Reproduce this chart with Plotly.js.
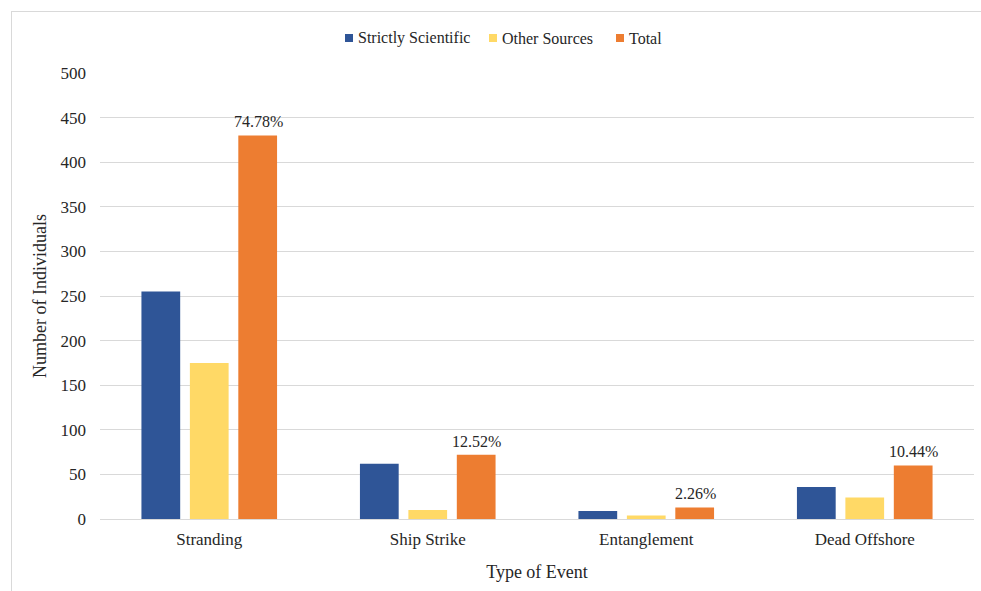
<!DOCTYPE html>
<html>
<head>
<meta charset="utf-8">
<script src="https://cdn.plot.ly/plotly-3.0.1.min.js"></script>
<style>
  html, body { margin: 0; padding: 0; background: #ffffff; }
  #wrap { position: relative; width: 981px; height: 591px; }
  #chart { position: absolute; left: 0; top: 0; width: 981px; height: 591px; }
  #frame { position: absolute; left: 11px; top: 11px; width: 975px; height: 590px;
           border-top: 1px solid #d9d9d9; border-left: 1px solid #d9d9d9; pointer-events: none; }
</style>
</head>
<body>
<div id="wrap">
  <div id="chart"></div>
  <div id="frame"></div>
</div>
<script>
// Event types and counts of individuals per source
const categories = ["Stranding", "Ship Strike", "Entanglement", "Dead Offshore"];
const strictlyScientific = [255, 62, 9, 36];
const otherSources = [175, 10, 4, 24];
const total = [430, 72, 13, 60];
const totalShare = ["74.78%", "12.52%", "2.26%", "10.44%"];
const seriesNames = ["Strictly Scientific", "Other Sources", "Total"];
const yTicks = [0, 50, 100, 150, 200, 250, 300, 350, 400, 450, 500];

const font = "Liberation Serif";
const textColor = "#262626";
const colors = ["#2F5597", "#FFD966", "#ED7D31"];
const seriesValues = [strictlyScientific, otherSources, total];

const traces = seriesNames.map((name, k) => ({
  type: "bar", name: name, x: categories, y: seriesValues[k],
  marker: { color: colors[k] }, showlegend: false, hoverinfo: "x+y+name"
}));

// Plot area geometry (pixels) used to place the compact legend row
const plotLeft = 100, plotWidth = 874, plotBottom = 519, plotHeight = 446;
const px = v => (v - plotLeft) / plotWidth;
const py = v => (plotBottom - v) / plotHeight;

// Compact legend: small square key followed by the series name
const legendKeyLeft = [345, 489, 616];
const legendShapes = legendKeyLeft.map((left, k) => ({
  type: "rect", xref: "paper", yref: "paper",
  x0: px(left), x1: px(left + 8), y0: py(42), y1: py(34),
  fillcolor: colors[k], line: { width: 0 }
}));
const legendTexts = legendKeyLeft.map((left, k) => ({
  xref: "paper", yref: "paper", x: px(left + 11), y: py(38),
  xanchor: "left", yanchor: "middle", showarrow: false,
  text: seriesNames[k], font: { family: font, size: 16, color: textColor }
}));

// Share of the total, written above each orange bar
const shareLabels = categories.map((c, i) => ({
  x: c, y: total[i], xref: "x", yref: "y",
  xshift: 49, yshift: 3, yanchor: "bottom", showarrow: false,
  text: totalShare[i],
  font: { family: font, size: 16, color: textColor }
}));

const layout = {
  width: 981, height: 591,
  margin: { l: 100, r: 7, t: 73, b: 72 },
  paper_bgcolor: "#ffffff", plot_bgcolor: "#ffffff",
  font: { family: font, size: 16, color: textColor },
  barmode: "group", bargap: 0.335, bargroupgap: 0.2,
  showlegend: false,
  shapes: legendShapes,
  annotations: legendTexts.concat(shareLabels),
  xaxis: {
    type: "category", showgrid: false, showline: true, linecolor: "#d9d9d9", linewidth: 1,
    ticks: "", ticklabelstandoff: 5,
    tickfont: { family: font, size: 17, color: textColor },
    title: { text: "Type of Event", font: { family: font, size: 18, color: textColor }, standoff: 16 }
  },
  yaxis: {
    range: [0, 500], tickvals: yTicks, showgrid: true, gridcolor: "#d9d9d9", gridwidth: 1,
    zeroline: false, showline: false, ticks: "", ticklabelstandoff: 13,
    tickfont: { family: font, size: 17, color: textColor },
    title: { text: "Number of Individuals", font: { family: font, size: 18, color: textColor }, standoff: 9 }
  }
};

Plotly.newPlot("chart", traces, layout, { displayModeBar: false, staticPlot: true });
</script>
</body>
</html>
